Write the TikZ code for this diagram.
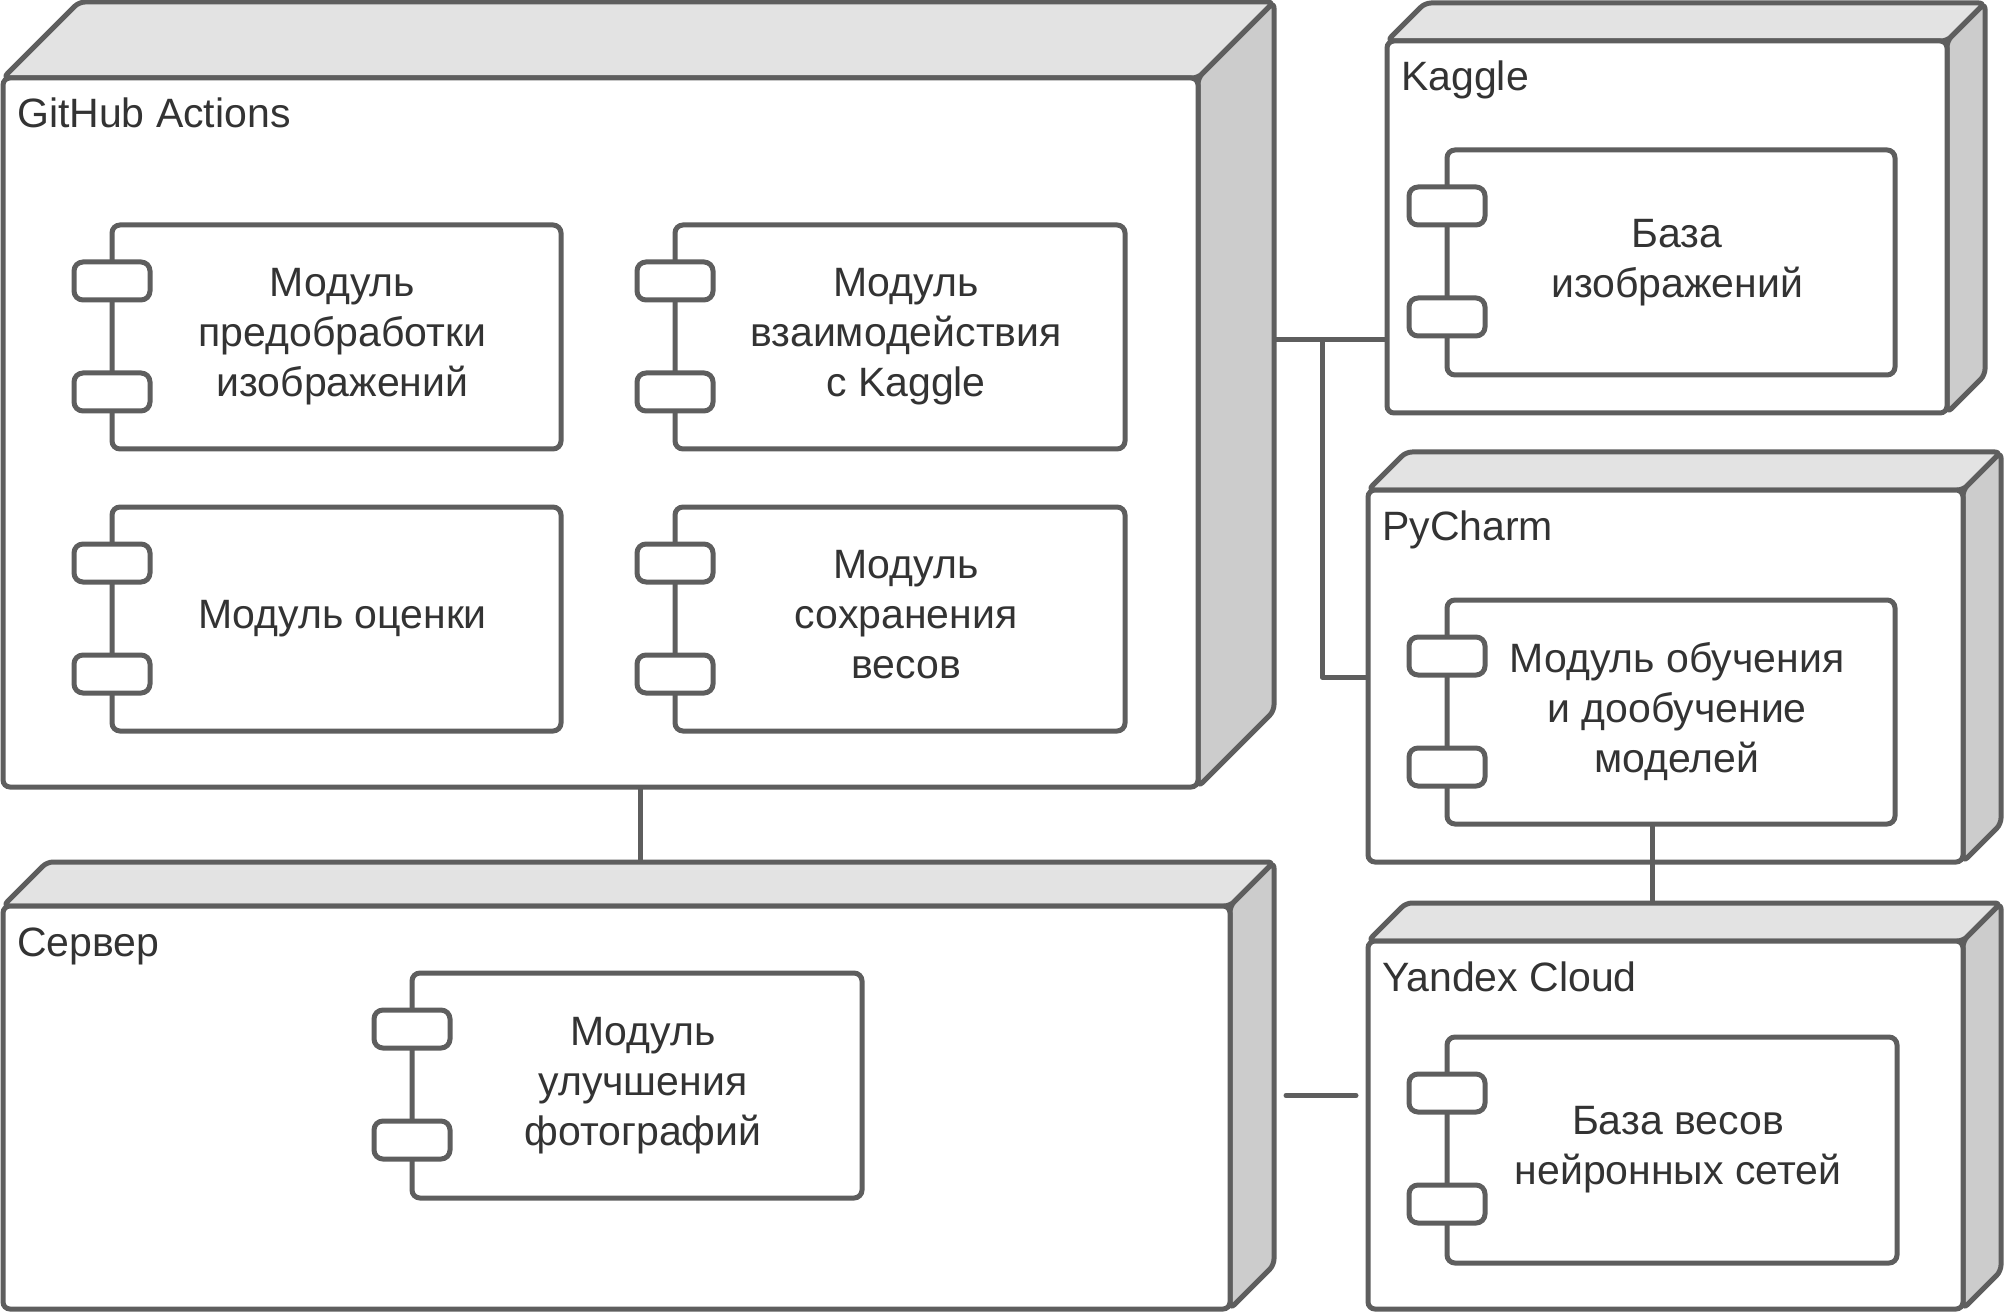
\documentclass[tikz,border=0pt]{standalone}
\usepackage{fontspec}
\setmainfont{Liberation Sans}
\usetikzlibrary{calc}
\definecolor{ln}{HTML}{5E5E5E}
\definecolor{topf}{HTML}{E3E3E3}
\definecolor{sidef}{HTML}{CCCCCC}
\definecolor{txt}{HTML}{333333}
\tikzset{
 poly/.style={draw=ln, line width=5pt, rounded corners=6pt, line join=round},
 facebox/.style={draw=ln, fill=white, line width=5pt, rounded corners=7pt, rectangle, inner sep=0pt, outer sep=0pt, anchor=north west},
 nlabel/.style={text=txt, font=\fontsize{41}{50}\selectfont, inner sep=0pt, anchor=base west},
 compbox/.style={draw=ln, fill=white, line width=5pt, rounded corners=8pt, rectangle, inner sep=0pt, outer sep=0pt, anchor=north west},
 portbox/.style={draw=ln, fill=white, line width=5pt, rounded corners=9pt},
 ctext/.style={text=txt, font=\fontsize{41}{50}\selectfont, align=center, inner sep=0pt},
 conn/.style={draw=ln, line width=5pt, line join=round},
}
\newcommand\dnode[7]{%
  \draw[poly, fill=topf] (#2,#3) -- ({#2+#6},{#3-#6}) -- ({#4+#6},{#3-#6}) -- (#4,#3) -- cycle;
  \draw[poly, fill=sidef] (#4,#3) -- ({#4+#6},{#3-#6}) -- ({#4+#6},{#5-#6}) -- (#4,#5) -- cycle;
  \node[facebox, minimum width={(#4-#2)*1pt}, minimum height={(#5-#3)*1pt}] (#1) at (#2,#3) {};
  \coordinate (#1-br) at ({#4+#6},{#3-#6});
  \node[nlabel] (#1-lab) at ({#2+14},{#3+50}) {#7};
}
\newcommand\cnode[6]{%
  \node[compbox, minimum width={(#4-#2)*1pt}, minimum height={(#5-#3)*1pt}] (#1) at (#2,#3) {};
  \draw[portbox] ({#2-38},{#3+37}) rectangle ({#2+38},{#3+75});
  \draw[portbox] ({#2-38},{#3+148}) rectangle ({#2+38},{#3+186});
  \node[ctext] (#1-txt) at ({(#2+#4)/2+6},{(#3+#5)/2}) {#6};
}
\begin{document}
\begin{tikzpicture}[x=1pt,y=-1pt]
\useasboundingbox (0,0) rectangle (2006,1313);
\dnode{gh}{3}{78}{1198}{787}{76}{GitHub Actions}
\dnode{kg}{1387}{41}{1947}{413}{38}{Kaggle}
\dnode{py}{1368}{490}{1963}{862}{38}{PyCharm}
\dnode{yc}{1368}{941}{1963}{1309}{38}{Yandex Cloud}
\dnode{sv}{3}{906}{1230}{1309}{44}{Сервер}
\cnode{c1}{112}{225}{561}{449}{Модуль\\предобработки\\изображений}
\cnode{c2}{675}{225}{1125}{449}{Модуль\\взаимодействия\\с Kaggle}
\cnode{c3}{112}{507}{561}{731}{Модуль оценки}
\cnode{c4}{675}{507}{1125}{731}{Модуль\\сохранения\\весов\vphantom{р}}
\cnode{k1}{1447}{150}{1895}{375}{База\\изображений}
\cnode{p1}{1447}{600}{1895}{824}{Модуль обучения\\и дообучение\\моделей}
\cnode{y1}{1447}{1037}{1897}{1263}{База весов\\нейронных сетей}
\cnode{s1}{412}{973}{862}{1198}{Модуль\\улучшения\\фотографий}
\coordinate (j1) at (1322,340);
\coordinate (j2) at (1322,677);
\draw[conn] (gh-br |- j1) -- (j1 -| kg.west);
\draw[conn] (j1) -- (j2) -- (j2 -| py.west);
\coordinate (xp) at (1652,0);
\draw[conn] (p1.south -| xp) -- (xp |- yc-br);
\coordinate (xs) at (640,0);
\draw[conn] (gh.south -| xs) -- (xs |- sv-br);
\coordinate (ys) at (0,1095.5);
\draw[conn, line cap=round, shorten <=12pt, shorten >=12pt] (sv-br |- ys) -- (ys -| yc.west);
\end{tikzpicture}
\end{document}
